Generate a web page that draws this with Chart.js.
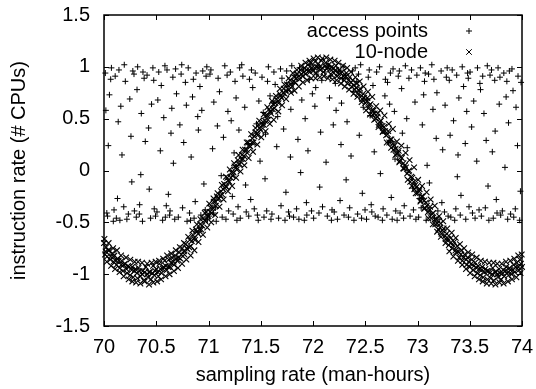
<!DOCTYPE html>
<html>
<head>
<meta charset="utf-8">
<script src="https://cdn.jsdelivr.net/npm/chart.js@4.4.1/dist/chart.umd.min.js"></script>
<style>
  body { margin: 0; background: #fff; }
  canvas { display: block; }
</style>
</head>
<body>
<canvas id="myChart" width="536" height="389"></canvas>
<script>
let xTicks = [70, 70.5, 71, 71.5, 72, 72.5, 73, 73.5, 74];
let yTicks = [-1.5, -1, -0.5, 0, 0.5, 1, 1.5];
let seriesNames = ["access points", "10-node"];

// "+" points (0.1 wide)
let accessPoints = [
  [70.013,0.94],[70.071,0.99],[70.034,-0.44],[70.089,-0.49],[70.052,0.73],[70.018,0.58],[70.096,-0.38],[70.064,0.88],[70.041,0.24],[70.027,-0.41],
  [70.118,-0.46],[70.143,0.97],[70.161,0.62],[70.107,0.91],[70.189,-0.35],[70.172,0.15],[70.129,-0.27],[70.194,1.02],[70.152,-0.48],[70.136,0.47],
  [70.204,0.86],[70.233,-0.42],[70.276,0.96],[70.258,0.33],[70.219,-0.47],[70.291,-0.39],[70.247,0.69],[70.266,-0.11],[70.287,0.93],
  [70.309,-0.45],[70.322,1.00],[70.357,0.55],[70.384,0.89],[70.341,-0.33],[70.368,-0.49],[70.395,0.28],[70.316,0.78],[70.373,0.95],[70.352,-0.04],[70.338,-0.42],
  [70.412,0.92],[70.446,-0.46],[70.427,0.41],[70.468,0.99],[70.481,-0.37],[70.455,0.64],[70.493,-0.44],[70.433,-0.18],[70.476,0.87],
  [70.507,-0.40],[70.524,0.95],[70.561,-0.48],[70.539,0.19],[70.583,1.01],[70.548,0.82],[70.596,-0.34],[70.572,0.51],[70.515,0.68],[70.587,-0.45],
  [70.603,0.97],[70.628,-0.43],[70.659,0.90],[70.641,0.36],[70.677,-0.47],[70.694,0.74],[70.616,-0.23],[70.685,0.98],[70.664,0.07],[70.632,-0.39],[70.649,0.60],
  [70.711,-0.45],[70.738,0.93],[70.752,-0.36],[70.779,0.85],[70.726,0.44],[70.795,-0.49],[70.763,0.27],[70.744,1.02],[70.788,0.63],
  [70.806,0.99],[70.819,-0.41],[70.847,0.71],[70.862,-0.46],[70.834,0.13],[70.881,0.94],[70.873,-0.30],[70.897,0.52],[70.855,0.88],[70.828,-0.48],
  [70.903,0.39],[70.927,-0.43],[70.945,0.96],[70.918,0.81],[70.969,-0.38],[70.984,1.00],[70.956,-0.13],[70.991,-0.47],[70.936,0.58],[70.977,0.91],
  [71.008,-0.44],[71.023,0.97],[71.051,0.66],[71.074,-0.49],[71.039,0.21],[71.092,0.89],[71.066,-0.36],[71.085,0.43],[71.014,0.93],[71.047,-0.41],
  [71.105,0.76],[71.131,-0.45],[71.156,1.01],[71.122,-0.05],[71.178,0.92],[71.143,0.32],[71.193,-0.39],[71.167,-0.47],[71.186,0.57],
  [71.209,0.95],[71.236,-0.42],[71.217,0.48],[71.254,0.86],[71.272,-0.48],[71.245,0.17],[71.298,0.99],[71.283,-0.35],[71.264,0.70],[71.228,-0.25],[71.291,0.39],
  [71.304,-0.46],[71.329,0.91],[71.347,0.61],[71.361,-0.40],[71.318,1.02],[71.376,0.26],[71.392,0.88],[71.355,-0.14],[71.385,-0.44],
  [71.411,0.97],[71.438,-0.37],[71.423,0.80],[71.459,0.45],[71.476,-0.48],[71.447,0.94],[71.493,0.09],[71.468,-0.43],[71.482,0.67],[71.404,-0.28],
  [71.512,0.90],[71.531,-0.45],[71.546,0.35],[71.573,1.00],[71.557,-0.39],[71.589,0.72],[71.524,0.56],[71.598,-0.47],[71.565,0.86],[71.541,-0.08],
  [71.607,-0.42],[71.626,0.95],[71.653,0.23],[71.638,0.83],[71.671,-0.46],[71.689,0.98],[71.662,0.52],[71.694,-0.34],[71.619,0.65],
  [71.703,0.89],[71.732,-0.48],[71.748,0.96],[71.719,0.40],[71.766,-0.40],[71.784,0.13],[71.757,0.77],[71.797,1.01],[71.775,-0.44],[71.741,-0.21],[71.788,0.59],
  [71.814,-0.45],[71.829,0.92],[71.856,0.30],[71.843,-0.37],[71.871,0.99],[71.893,0.68],[71.865,-0.47],[71.807,0.84],[71.882,-0.02],
  [71.908,0.97],[71.925,0.50],[71.941,-0.43],[71.963,0.88],[71.986,-0.39],[71.952,0.19],[71.979,1.02],[71.917,-0.48],[71.994,0.74],[71.937,-0.31],
  [72.006,-0.46],[72.032,0.93],[72.018,0.62],[72.057,-0.41],[72.073,0.37],[72.049,0.99],[72.091,-0.35],[72.084,0.87],[72.064,-0.16],[72.026,0.80],
  [72.113,0.95],[72.137,-0.44],[72.125,0.08],[72.158,0.70],[72.176,-0.48],[72.149,1.01],[72.194,0.44],[72.182,-0.38],[72.167,0.91],
  [72.203,-0.40],[72.221,0.58],[72.246,0.97],[72.234,-0.47],[72.268,0.25],[72.281,0.89],[72.259,-0.29],[72.297,-0.43],[72.214,0.84],[72.273,0.65],[72.289,1.00],
  [72.308,0.92],[72.339,-0.45],[72.326,0.47],[72.351,-0.36],[72.377,0.96],[72.364,0.14],[72.392,-0.48],[72.385,0.76],[72.317,-0.09],
  [72.404,0.99],[72.427,-0.42],[72.443,0.34],[72.419,0.86],[72.465,-0.46],[72.481,0.61],[72.456,1.02],[72.498,-0.38],[72.472,-0.22],[72.436,0.93],
  [72.512,-0.47],[72.529,0.90],[72.547,0.53],[72.563,-0.40],[72.538,0.97],[72.586,0.18],[72.574,0.82],[72.595,-0.44],[72.518,0.68],[72.557,-0.33],
  [72.609,0.95],[72.623,-0.45],[72.652,0.41],[72.637,1.00],[72.671,-0.37],[72.688,0.72],[72.664,-0.48],[72.693,0.88],[72.645,-0.03],
  [72.707,-0.43],[72.724,0.27],[72.741,0.94],[72.758,-0.47],[72.779,0.57],[72.766,0.98],[72.792,-0.39],[72.713,0.85],[72.785,0.11],[72.749,-0.26],[72.733,0.64],
  [72.816,0.91],[72.833,-0.41],[72.848,0.79],[72.867,-0.46],[72.855,0.36],[72.884,1.01],[72.873,-0.34],[72.897,0.50],[72.805,-0.48],[72.826,0.96],
  [72.902,0.22],[72.929,-0.44],[72.943,0.97],[72.918,0.89],[72.961,-0.38],[72.976,0.66],[72.985,-0.47],[72.954,-0.17],[72.994,0.92],
  [73.011,-0.45],[73.028,0.99],[73.046,0.44],[73.035,-0.36],[73.067,0.86],[73.083,-0.48],[73.059,0.73],[73.092,0.05],[73.074,0.94],[73.018,-0.27],
  [73.106,0.93],[73.121,-0.42],[73.148,0.59],[73.137,1.02],[73.163,-0.46],[73.179,0.31],[73.195,-0.39],[73.157,0.88],[73.186,0.75],[73.114,-0.12],
  [73.207,-0.47],[73.226,0.96],[73.241,0.20],[73.258,-0.40],[73.276,0.90],[73.264,0.63],[73.293,-0.44],[73.284,0.99],[73.233,-0.31],
  [73.304,0.87],[73.319,-0.45],[73.345,0.48],[73.332,0.97],[73.367,-0.37],[73.388,0.15],[73.356,-0.48],[73.375,0.92],[73.396,0.70],[73.312,0.34],[73.381,-0.06],
  [73.409,-0.43],[73.428,1.00],[73.441,0.81],[73.462,-0.47],[73.457,0.26],[73.479,0.94],[73.493,-0.35],[73.471,0.57],[73.416,-0.24],[73.486,0.89],
  [73.503,0.95],[73.526,-0.41],[73.538,0.67],[73.551,-0.46],[73.574,0.99],[73.567,0.09],[73.589,-0.38],[73.597,0.84],[73.518,0.42],
  [73.611,-0.44],[73.624,0.91],[73.649,-0.36],[73.636,0.55],[73.668,1.01],[73.683,-0.48],[73.657,0.29],[73.694,0.92],[73.675,-0.15],[73.603,0.78],
  [73.708,0.97],[73.725,-0.46],[73.743,0.38],[73.761,-0.41],[73.739,0.87],[73.782,0.64],[73.796,-0.43],[73.771,0.99],[73.754,-0.28],[73.716,0.18],[73.789,0.90],
  [73.812,-0.39],[73.826,0.94],[73.848,0.71],[73.863,-0.47],[73.837,0.03],[73.879,0.96],[73.891,-0.42],[73.871,0.46],[73.855,0.86],
  [73.904,0.98],[73.921,-0.45],[73.943,0.61],[73.936,-0.37],[73.962,0.91],[73.978,-0.48],[73.957,0.24],[73.991,0.85],[73.985,-0.20],[73.914,0.77]
];

// "x" points, core of the wave
let nodePoints = [
  [70.00,-0.70],[70.01,-0.81],[70.02,-0.74],[70.03,-0.83],[70.05,-0.77],[70.06,-0.86],[70.08,-0.80],[70.09,-0.88],
  [70.10,-0.82],[70.12,-0.91],[70.13,-0.85],[70.15,-0.94],[70.17,-0.87],[70.18,-0.97],
  [70.20,-0.90],[70.22,-0.99],[70.23,-0.92],[70.25,-1.01],[70.27,-0.93],[70.28,-1.03],
  [70.30,-0.95],[70.32,-1.04],[70.33,-0.94],[70.35,-1.02],[70.37,-0.97],[70.38,-1.06],
  [70.40,-0.93],[70.42,-1.03],[70.43,-0.98],[70.45,-1.05],[70.47,-0.92],[70.48,-1.01],
  [70.50,-0.95],[70.52,-1.02],[70.53,-0.90],[70.55,-0.99],[70.57,-0.93],[70.58,-0.87],
  [70.60,-0.96],[70.62,-0.86],[70.63,-0.93],[70.65,-0.84],[70.67,-0.91],[70.68,-0.82],
  [70.70,-0.87],[70.72,-0.79],[70.73,-0.85],[70.75,-0.75],[70.77,-0.81],[70.78,-0.71],
  [70.80,-0.76],[70.82,-0.67],[70.83,-0.73],[70.85,-0.62],[70.87,-0.67],[70.88,-0.57],
  [70.90,-0.61],[70.92,-0.52],[70.93,-0.57],[70.95,-0.46],[70.97,-0.49],[70.98,-0.40],
  [71.00,-0.44],[71.02,-0.36],[71.03,-0.41],[71.05,-0.30],[71.07,-0.34],[71.08,-0.25],
  [71.10,-0.27],[71.12,-0.20],[71.13,-0.23],[71.15,-0.13],[71.17,-0.16],[71.18,-0.07],
  [71.20,-0.11],[71.22,-0.02],[71.23,-0.05],[71.25,0.04],[71.27,0.01],[71.28,0.10],
  [71.30,0.06],[71.32,0.15],[71.33,0.11],[71.35,0.20],[71.37,0.17],[71.38,0.27],
  [71.40,0.23],[71.42,0.31],[71.43,0.27],[71.45,0.37],[71.47,0.34],[71.48,0.44],
  [71.50,0.39],[71.52,0.47],[71.53,0.44],[71.55,0.53],[71.57,0.49],[71.58,0.59],
  [71.60,0.55],[71.62,0.64],[71.63,0.60],[71.65,0.69],[71.67,0.65],[71.68,0.74],
  [71.70,0.70],[71.72,0.79],[71.73,0.74],[71.75,0.83],[71.77,0.78],[71.78,0.87],
  [71.80,0.81],[71.82,0.90],[71.83,0.85],[71.85,0.93],[71.87,0.88],[71.88,0.97],
  [71.90,0.91],[71.92,0.99],[71.93,0.93],[71.95,1.02],[71.97,0.95],[71.98,1.04],
  [72.00,0.96],[72.02,1.05],[72.03,0.94],[72.05,1.03],[72.07,0.97],[72.08,1.06],
  [72.10,0.95],[72.12,1.04],[72.13,0.98],[72.15,1.02],[72.17,0.93],[72.18,1.00],
  [72.20,0.94],[72.22,1.01],[72.23,0.91],[72.25,0.97],[72.27,0.89],[72.28,0.95],
  [72.30,0.87],[72.32,0.94],[72.33,0.84],[72.35,0.90],[72.37,0.81],[72.38,0.87],
  [72.40,0.78],[72.42,0.84],[72.43,0.74],[72.45,0.79],[72.47,0.69],[72.48,0.74],
  [72.50,0.65],[72.52,0.70],[72.53,0.60],[72.55,0.64],[72.57,0.54],[72.58,0.58],
  [72.60,0.50],[72.62,0.55],[72.63,0.44],[72.65,0.48],[72.67,0.38],[72.68,0.42],
  [72.70,0.34],[72.72,0.38],[72.73,0.27],[72.75,0.30],[72.77,0.20],[72.78,0.24],
  [72.80,0.16],[72.82,0.19],[72.83,0.09],[72.85,0.12],[72.87,0.02],[72.88,0.05],
  [72.90,-0.03],[72.92,0.00],[72.93,-0.11],[72.95,-0.07],[72.97,-0.18],[72.98,-0.14],
  [73.00,-0.22],[73.02,-0.18],[73.03,-0.29],[73.05,-0.25],[73.07,-0.36],[73.08,-0.31],
  [73.10,-0.40],[73.12,-0.35],[73.13,-0.46],[73.15,-0.41],[73.17,-0.52],[73.18,-0.47],
  [73.20,-0.57],[73.22,-0.51],[73.23,-0.61],[73.25,-0.56],[73.27,-0.66],[73.28,-0.61],
  [73.30,-0.72],[73.32,-0.65],[73.33,-0.75],[73.35,-0.69],[73.37,-0.79],[73.38,-0.73],
  [73.40,-0.84],[73.42,-0.77],[73.43,-0.87],[73.45,-0.81],[73.47,-0.91],[73.48,-0.84],
  [73.50,-0.93],[73.52,-0.86],[73.53,-0.96],[73.55,-0.89],[73.57,-0.99],[73.58,-0.92],
  [73.60,-1.01],[73.62,-0.93],[73.63,-1.03],[73.65,-0.95],[73.67,-1.05],[73.68,-0.97],
  [73.70,-1.04],[73.72,-0.94],[73.73,-1.06],[73.75,-0.98],[73.77,-1.03],[73.78,-0.95],
  [73.80,-1.05],[73.82,-0.96],[73.83,-1.02],[73.85,-0.93],[73.87,-1.01],[73.88,-0.94],
  [73.90,-1.00],[73.92,-0.91],[73.93,-0.98],[73.95,-0.89],[73.97,-0.96],[73.98,-0.86],[74.00,-0.93]
];

// "x" points on the edges of the band
let nodeEdge = [
  [70.004,-0.66],[70.027,-0.88],[70.044,-0.70],[70.068,-0.92],[70.087,-0.75],
  [70.106,-0.95],[70.124,-0.77],[70.149,-0.98],[70.163,-0.82],[70.188,-1.02],
  [70.211,-0.84],[70.236,-1.05],[70.252,-0.86],[70.271,-1.07],[70.293,-0.88],
  [70.307,-1.08],[70.326,-0.88],[70.348,-1.09],[70.364,-0.89],[70.389,-1.07],
  [70.413,-0.90],[70.431,-1.10],[70.456,-0.89],[70.472,-1.08],[70.494,-0.88],
  [70.508,-1.07],[70.527,-0.87],[70.546,-1.05],[70.566,-0.85],[70.589,-1.02],
  [70.604,-0.82],[70.627,-1.00],[70.643,-0.80],[70.669,-0.97],[70.687,-0.77],
  [70.708,-0.94],[70.726,-0.74],[70.747,-0.90],[70.766,-0.70],[70.788,-0.86],
  [70.806,-0.64],[70.829,-0.82],[70.846,-0.58],[70.865,-0.77],[70.889,-0.52],
  [70.904,-0.69],[70.923,-0.47],[70.947,-0.62],[70.964,-0.41],[70.988,-0.55],
  [71.007,-0.32],[71.026,-0.50],[71.048,-0.27],[71.064,-0.43],[71.087,-0.22],
  [71.105,-0.35],[71.128,-0.14],[71.144,-0.28],[71.167,-0.06],[71.186,-0.20],
  [71.204,0.01],[71.226,-0.15],[71.245,0.07],[71.264,-0.07],[71.288,0.15],
  [71.306,-0.01],[71.327,0.20],[71.343,0.05],[71.366,0.27],[71.384,0.12],
  [71.408,0.35],[71.426,0.18],[71.449,0.41],[71.467,0.25],[71.486,0.48],
  [71.505,0.32],[71.528,0.54],[71.546,0.38],[71.563,0.61],[71.587,0.45],
  [71.607,0.67],[71.624,0.49],[71.645,0.72],[71.668,0.57],[71.685,0.79],
  [71.704,0.63],[71.726,0.83],[71.743,0.69],[71.767,0.89],[71.789,0.75],
  [71.806,0.94],[71.823,0.77],[71.846,0.97],[71.864,0.81],[71.887,1.01],
  [71.903,0.85],[71.928,1.04],[71.944,0.87],[71.966,1.06],[71.984,0.89],
  [72.006,1.08],[72.024,0.89],[72.046,1.09],[72.064,0.90],[72.089,1.08],
  [72.104,0.91],[72.127,1.09],[72.143,0.89],[72.166,1.07],[72.186,0.88],
  [72.207,1.06],[72.226,0.87],[72.244,1.04],[72.268,0.84],[72.287,1.01],
  [72.304,0.81],[72.327,0.99],[72.346,0.78],[72.363,0.95],[72.388,0.74],
  [72.406,0.90],[72.424,0.71],[72.447,0.86],[72.465,0.66],[72.484,0.81],
  [72.508,0.58],[72.526,0.76],[72.545,0.54],[72.567,0.71],[72.586,0.49],
  [72.604,0.62],[72.627,0.42],[72.643,0.58],[72.666,0.37],[72.684,0.53],
  [72.706,0.27],[72.725,0.45],[72.748,0.22],[72.764,0.40],[72.789,0.15],
  [72.803,0.28],[72.826,0.08],[72.846,0.24],[72.864,0.02],[72.886,0.17],
  [72.907,-0.09],[72.924,0.10],[72.945,-0.15],[72.967,0.03],[72.983,-0.22],
  [73.006,-0.09],[73.028,-0.30],[73.044,-0.15],[73.065,-0.37],[73.087,-0.21],
  [73.104,-0.46],[73.126,-0.28],[73.147,-0.52],[73.165,-0.34],[73.188,-0.59],
  [73.207,-0.44],[73.224,-0.64],[73.246,-0.49],[73.268,-0.70],[73.284,-0.56],
  [73.305,-0.78],[73.327,-0.60],[73.343,-0.83],[73.366,-0.65],[73.387,-0.87],
  [73.406,-0.71],[73.428,-0.91],[73.446,-0.75],[73.464,-0.95],[73.485,-0.79],
  [73.504,-0.99],[73.523,-0.81],[73.547,-1.02],[73.566,-0.84],[73.588,-1.05],
  [73.606,-0.87],[73.624,-1.07],[73.645,-0.88],[73.663,-1.09],[73.686,-0.89],
  [73.705,-1.09],[73.727,-0.89],[73.746,-1.10],[73.764,-0.90],[73.785,-1.08],
  [73.806,-0.90],[73.824,-1.09],[73.847,-0.88],[73.865,-1.07],[73.888,-0.87],
  [73.904,-1.05],[73.926,-0.85],[73.946,-1.03],[73.964,-0.82],[73.986,-0.99],[73.997,-0.81]
];

// "x" points filling the middle of the band
let nodeMid = [
  [70.015,-0.78],[70.040,-0.77],[70.065,-0.83],[70.090,-0.83],
  [70.115,-0.87],[70.140,-0.87],[70.165,-0.91],[70.190,-0.91],
  [70.215,-0.95],[70.240,-0.93],[70.265,-0.96],[70.290,-0.97],
  [70.315,-0.99],[70.340,-0.97],[70.365,-1.00],[70.390,-0.98],
  [70.415,-1.00],[70.440,-0.98],[70.465,-0.99],[70.490,-0.97],
  [70.515,-0.98],[70.540,-0.95],[70.565,-0.95],[70.590,-0.92],
  [70.615,-0.93],[70.640,-0.89],[70.665,-0.88],[70.690,-0.85],
  [70.715,-0.84],[70.740,-0.81],[70.765,-0.78],[70.790,-0.75],
  [70.815,-0.74],[70.840,-0.68],[70.865,-0.65],[70.890,-0.59],
  [70.915,-0.57],[70.940,-0.53],[70.965,-0.48],[70.990,-0.44],
  [71.015,-0.40],[71.040,-0.36],[71.065,-0.30],[71.090,-0.28],
  [71.115,-0.24],[71.140,-0.18],[71.165,-0.15],[71.190,-0.10],
  [71.215,-0.07],[71.240,-0.02],[71.265,0.03],[71.290,0.06],
  [71.315,0.11],[71.340,0.14],[71.365,0.20],[71.390,0.24],
  [71.415,0.27],[71.440,0.33],[71.465,0.36],[71.490,0.41],
  [71.515,0.44],[71.540,0.48],[71.565,0.53],[71.590,0.57],
  [71.615,0.59],[71.640,0.65],[71.665,0.67],[71.690,0.72],
  [71.715,0.75],[71.740,0.77],[71.765,0.82],[71.790,0.83],
  [71.815,0.86],[71.840,0.89],[71.865,0.91],[71.890,0.93],
  [71.915,0.95],[71.940,0.97],[71.965,0.97],[71.990,0.99],
  [72.015,0.99],[72.040,1.00],[72.065,1.00],[72.090,0.99],
  [72.115,1.01],[72.140,0.99],[72.165,0.98],[72.190,0.98],
  [72.215,0.97],[72.240,0.94],[72.265,0.94],[72.290,0.91],
  [72.315,0.91],[72.340,0.87],[72.365,0.85],[72.390,0.82],
  [72.415,0.80],[72.440,0.77],[72.465,0.72],[72.490,0.70],
  [72.515,0.67],[72.540,0.63],[72.565,0.58],[72.590,0.55],
  [72.615,0.52],[72.640,0.47],[72.665,0.43],[72.690,0.38],
  [72.715,0.35],[72.740,0.30],[72.765,0.26],[72.790,0.21],
  [72.815,0.17],[72.840,0.13],[72.865,0.07],[72.890,0.03],
  [72.915,-0.01],[72.940,-0.06],[72.965,-0.11],[72.990,-0.16],
  [73.015,-0.20],[73.040,-0.25],[73.065,-0.29],[73.090,-0.34],
  [73.115,-0.38],[73.140,-0.42],[73.165,-0.47],[73.190,-0.51],
  [73.215,-0.55],[73.240,-0.58],[73.265,-0.63],[73.290,-0.66],
  [73.315,-0.70],[73.340,-0.72],[73.365,-0.77],[73.390,-0.78],
  [73.415,-0.81],[73.440,-0.84],[73.465,-0.86],[73.490,-0.88],
  [73.515,-0.90],[73.540,-0.92],[73.565,-0.94],[73.590,-0.95],
  [73.615,-0.96],[73.640,-0.98],[73.665,-0.97],[73.690,-0.99],
  [73.715,-1.00],[73.740,-0.98],[73.765,-1.00],[73.790,-0.99],
  [73.815,-0.99],[73.840,-0.97],[73.865,-0.98],[73.890,-0.96],
  [73.915,-0.96],[73.940,-0.93],[73.965,-0.93],[73.990,-0.90]
];

let ctx = document.getElementById("myChart");
let fontFamily = "'Liberation Sans', Arial, sans-serif";
let fontSize = 20;

function toXY(list) {
    return list.map(p => ({ x: p[0], y: p[1] }));
}

function fmt(v) {
    return String(Number(v.toFixed(1)));
}

// gnuplot style frame with inward ticks, and the key in the top right
let gnuplotFrame = {
    id: 'gnuplotFrame',
    afterDatasetsDraw(chart) {
        let c = chart.ctx;
        let a = chart.chartArea;
        let xs = chart.scales.x;
        let ys = chart.scales.y;
        c.save();
        c.strokeStyle = '#000';
        c.lineWidth = 1.5;
        c.strokeRect(a.left, a.top, a.right - a.left, a.bottom - a.top);
        c.lineWidth = 1;
        c.beginPath();
        xTicks.forEach(t => {
            let px = Math.round(xs.getPixelForValue(t)) + 0.5;
            c.moveTo(px, a.bottom); c.lineTo(px, a.bottom - 5);
            c.moveTo(px, a.top); c.lineTo(px, a.top + 5);
        });
        yTicks.forEach(t => {
            let py = Math.round(ys.getPixelForValue(t)) + 0.5;
            c.moveTo(a.left, py); c.lineTo(a.left + 5, py);
            c.moveTo(a.right, py); c.lineTo(a.right - 5, py);
        });
        c.stroke();

        // key
        c.fillStyle = '#000';
        c.font = fontSize + 'px ' + fontFamily;
        c.textAlign = 'right';
        c.textBaseline = 'middle';
        let keyX = 428, markX = 469;
        let rows = [31, 52];
        c.fillText(seriesNames[0], keyX, rows[0]);
        c.fillText(seriesNames[1], keyX, rows[1]);
        c.beginPath();
        c.moveTo(markX - 3, rows[0]); c.lineTo(markX + 3, rows[0]);
        c.moveTo(markX, rows[0] - 3); c.lineTo(markX, rows[0] + 3);
        c.moveTo(markX - 2.8, rows[1] - 2.8); c.lineTo(markX + 2.8, rows[1] + 2.8);
        c.moveTo(markX - 2.8, rows[1] + 2.8); c.lineTo(markX + 2.8, rows[1] - 2.8);
        c.stroke();
        c.restore();
    }
};

let myChart = new Chart(ctx, {
    type: 'scatter',
    data: {
        datasets: [{
            label: seriesNames[0],
            data: toXY(accessPoints),
            pointStyle: 'cross',
            radius: 3,
            borderColor: '#000',
            borderWidth: 1,
            clip: false
        }, {
            label: seriesNames[1],
            data: toXY(nodePoints.concat(nodeEdge, nodeMid)),
            pointStyle: 'crossRot',
            radius: 4,
            borderColor: '#000',
            borderWidth: 1.1,
            clip: false
        }]
    },
    options: {
        responsive: false,
        animation: false,
        layout: {
            padding: { top: 15, right: 14, left: 0, bottom: 0 }
        },
        plugins: {
            legend: { display: false },
            tooltip: { enabled: false }
        },
        scales: {
            x: {
                type: 'linear',
                min: 70,
                max: 74,
                afterFit: (scale) => {
                    scale.height = 63;
                    scale.paddingLeft = 0;
                    scale.paddingRight = 0;
                },
                afterBuildTicks: (scale) => { scale.ticks = xTicks.map(v => ({ value: v })); },
                grid: { display: false, drawTicks: false },
                border: { display: false },
                ticks: {
                    color: '#000',
                    padding: 9,
                    maxRotation: 0,
                    autoSkip: false,
                    font: { family: fontFamily, size: fontSize },
                    callback: (v) => fmt(v)
                },
                title: {
                    display: true,
                    text: 'sampling rate (man-hours)',
                    color: '#000',
                    padding: { top: 0, bottom: 2 },
                    font: { family: fontFamily, size: fontSize }
                }
            },
            y: {
                type: 'linear',
                min: -1.5,
                max: 1.5,
                afterFit: (scale) => {
                    scale.width = 104;
                    scale.paddingTop = 0;
                    scale.paddingBottom = 0;
                },
                afterBuildTicks: (scale) => { scale.ticks = yTicks.map(v => ({ value: v })); },
                grid: { display: false, drawTicks: false },
                border: { display: false },
                ticks: {
                    color: '#000',
                    padding: 14,
                    autoSkip: false,
                    font: { family: fontFamily, size: fontSize },
                    callback: (v) => fmt(v)
                },
                title: {
                    display: true,
                    text: 'instruction rate (# CPUs)',
                    color: '#000',
                    padding: { top: 7, bottom: 0 },
                    font: { family: fontFamily, size: fontSize }
                }
            }
        }
    },
    plugins: [gnuplotFrame]
});
</script>
</body>
</html>
